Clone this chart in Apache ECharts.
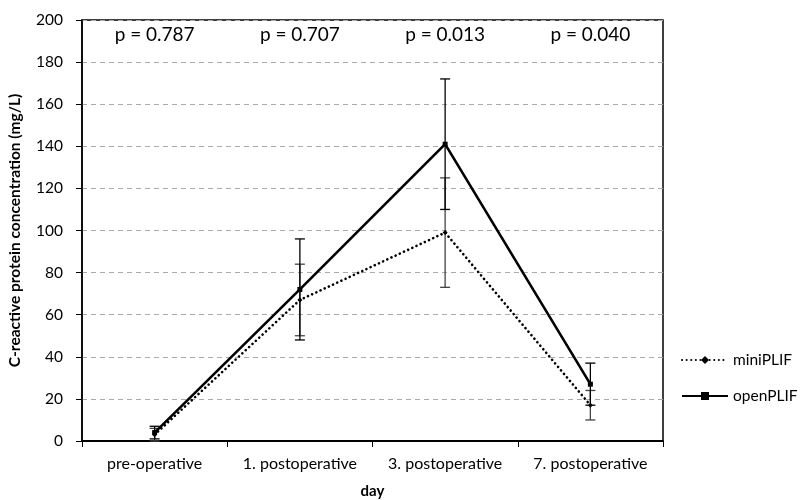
<!DOCTYPE html>
<html><head><meta charset="utf-8">
<script src="https://cdn.jsdelivr.net/npm/echarts@6/dist/echarts.min.js"></script>
<style>html,body{margin:0;padding:0;background:#fff}#c{width:811px;height:500px}</style>
</head><body><div id="c"></div>
<script>
const categories = ['pre-operative', '1. postoperative', '3. postoperative', '7. postoperative'];
const miniPLIF = [3, 67, 99, 17];
const miniSD = [3, 17, 26, 7];
const openPLIF = [4, 72, 141, 27];
const openSD = [3, 24, 31, 10];
const pValues = ['p = 0.787', 'p = 0.707', 'p = 0.013', 'p = 0.040'];
const pY = 193;
const yTicks = [0, 20, 40, 60, 80, 100, 120, 140, 160, 180, 200];

const FONT = 'Lato';
const chart = echarts.init(document.getElementById('c'));

function errSeries(vals, sds, color, z) {
  return {
    type: 'custom',
    z: z,
    silent: true,
    data: vals.map((v, i) => [i, v - sds[i], v + sds[i]]),
    renderItem: function (params, api) {
      const lo = api.coord([api.value(0), api.value(1)]);
      const hi = api.coord([api.value(0), api.value(2)]);
      const w = 5;
      const style = { stroke: color, lineWidth: 1.3 };
      return {
        type: 'group',
        children: [
          { type: 'line', shape: { x1: hi[0], y1: hi[1], x2: lo[0], y2: lo[1] }, style: style },
          { type: 'line', shape: { x1: hi[0] - w, y1: hi[1], x2: hi[0] + w, y2: hi[1] }, style: style },
          { type: 'line', shape: { x1: lo[0] - w, y1: lo[1], x2: lo[0] + w, y2: lo[1] }, style: style }
        ]
      };
    }
  };
}

chart.setOption({
  animation: false,
  textStyle: { fontFamily: FONT },
  grid: { left: 82, right: 148, top: 20, bottom: 59, show: true, borderColor: '#000', borderWidth: 1.5,
    containLabel: false, outerBoundsMode: 'none' },
  legend: {
    orient: 'vertical',
    left: 676,
    top: 347,
    itemGap: 20,
    itemWidth: 46,
    itemHeight: 10,
    textStyle: { fontFamily: FONT, fontSize: 15.5, color: '#000' },
    data: ['miniPLIF', 'openPLIF']
  },
  xAxis: {
    type: 'category',
    data: categories,
    boundaryGap: true,
    name: 'day',
    nameLocation: 'middle',
    nameGap: 43,
    nameTextStyle: { fontFamily: FONT, fontSize: 15, fontWeight: 'bold', color: '#000' },
    axisLine: { lineStyle: { color: '#000', width: 2 } },
    axisTick: { show: true, length: 6, interval: 0, lineStyle: { color: '#000' } },
    axisLabel: { fontFamily: FONT, fontSize: 16, color: '#000', margin: 15, interval: 0, hideOverlap: false }
  },
  yAxis: {
    type: 'value',
    min: 0,
    max: 200,
    interval: 20,
    name: 'C-reactive protein concentration (mg/L)',
    nameLocation: 'middle',
    nameGap: 59,
    nameTextStyle: { fontFamily: FONT, fontSize: 15.5, fontWeight: 'bold', color: '#000' },
    axisLine: { show: true, lineStyle: { color: '#000', width: 1.5 } },
    axisTick: { show: true, length: 6, inside: false, lineStyle: { color: '#000' } },
    axisLabel: { fontFamily: FONT, fontSize: 15.5, color: '#000', margin: 19,
      formatter: v => yTicks.includes(v) ? String(v) : '' },
    splitLine: { show: true, lineStyle: { color: '#aaa', type: [5, 4], width: 1 } }
  },
  series: [
    errSeries(miniPLIF, miniSD, '#444', 3),
    errSeries(openPLIF, openSD, '#000', 3),
    {
      name: 'miniPLIF',
      type: 'line',
      data: miniPLIF,
      z: 4,
      symbol: 'diamond',
      symbolSize: 5,
      itemStyle: { color: '#000' },
      lineStyle: { color: '#000', width: 2.6, type: [0.1, 4.5], cap: 'round' }
    },
    {
      name: 'openPLIF',
      type: 'line',
      data: openPLIF,
      z: 5,
      symbol: 'rect',
      symbolSize: 5,
      itemStyle: { color: '#000' },
      lineStyle: { color: '#000', width: 2.6 }
    },
    {
      name: 'p',
      type: 'scatter',
      data: pValues.map((p, i) => [i, pY]),
      symbolSize: 0,
      silent: true,
      itemStyle: { opacity: 1 },
      label: {
        show: true,
        position: 'inside',
        fontFamily: FONT,
        fontSize: 19,
        color: '#000',
        opacity: 1,
        formatter: params => pValues[params.dataIndex]
      }
    }
  ]
});
</script>
</body></html>
